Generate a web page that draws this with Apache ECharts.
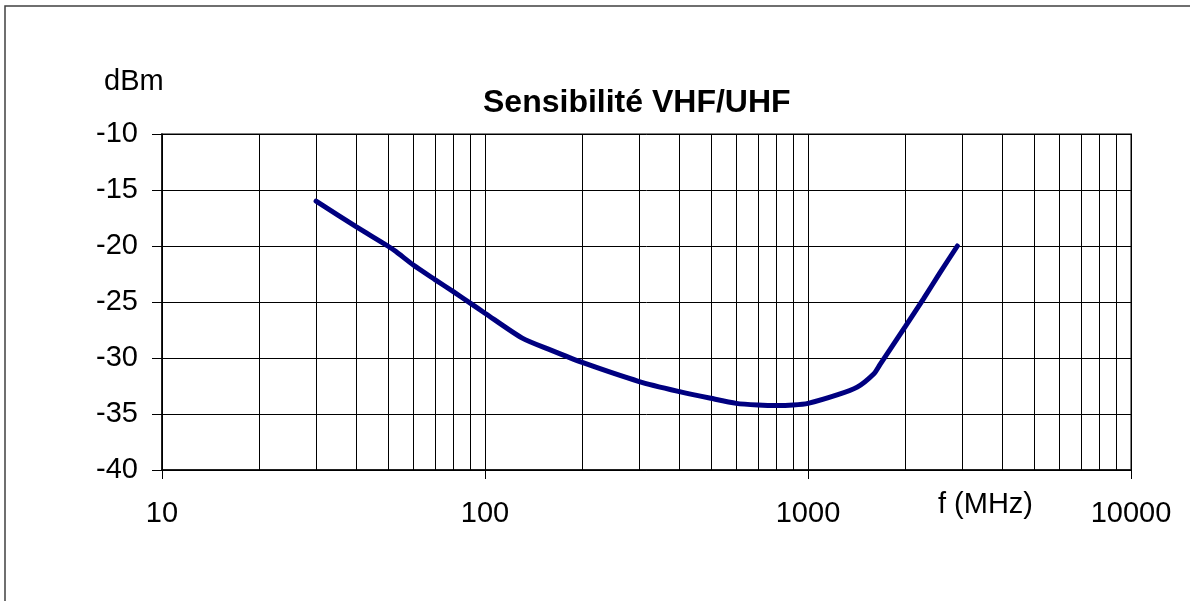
<!DOCTYPE html>
<html>
<head>
<meta charset="utf-8">
<script src="https://cdn.jsdelivr.net/npm/echarts@6/dist/echarts.min.js"></script>
<style>
  html, body { margin: 0; padding: 0; background: #fff; }
  #chart { width: 1190px; height: 601px; }
</style>
</head>
<body>
<div id="chart"></div>
<script>
// fréquences (MHz) et sensibilité (dBm)
const freqMHz = [30, 40, 50, 53, 60, 70, 80, 90, 100, 130, 160, 200, 300, 400, 500,
  600, 700, 800, 900, 1000, 1230, 1420, 1600, 1670, 2000, 2280, 2560, 2900]
const sensDbm = [-16, -18.3, -20, -20.5, -21.7, -23, -24.1, -25.1, -26, -28.2, -29.3, -30.4, -32.1, -33.0, -33.6,
  -34.05, -34.2, -34.25, -34.2, -34.05, -33.3, -32.6, -31.4, -30.6, -27.2, -24.7, -22.4, -20]

// lignes de grille secondaires (échelle log)
const minorFreqs = [20, 30, 40, 50, 60, 70, 80, 90,
  200, 300, 400, 500, 600, 700, 800, 900,
  2000, 3000, 4000, 5000, 6000, 7000, 8000, 9000]

const FONT = '"Liberation Sans", Arial, sans-serif'

const chart = echarts.init(document.getElementById('chart'))

chart.setOption({
  animation: false,
  backgroundColor: '#fff',
  grid: {
    left: 162, top: 134, right: 59, bottom: 131,
    show: true, borderColor: '#808080', borderWidth: 2
  },
  graphic: [
    {
      type: 'rect', silent: true, z: -1,
      shape: { x: 5, y: 6, width: 1300, height: 700 },
      style: { fill: 'none', stroke: '#404040', lineWidth: 1.5 }
    },
    {
      type: 'text', left: 104, top: 67,
      style: { text: 'dBm', font: '29px ' + FONT, fill: '#000' }
    },
    {
      type: 'text', left: 938, top: 490,
      style: { text: 'f (MHz)', font: '29px ' + FONT, fill: '#000' }
    },
    {
      type: 'text', left: 483, top: 87,
      style: { text: 'Sensibilité VHF/UHF', font: 'bold 32px ' + FONT, fill: '#000' }
    }
  ],
  xAxis: {
    type: 'log',
    logBase: 10,
    min: 10,
    max: 10000,
    axisLine: { show: true, onZero: false, lineStyle: { color: '#000', width: 1.5 } },
    axisTick: { show: true, length: 9, lineStyle: { color: '#000' } },
    axisLabel: {
      color: '#000', fontSize: 29, fontFamily: FONT, margin: 29,
      formatter: v => String(Math.round(v))
    },
    splitLine: { show: true, lineStyle: { color: '#000', width: 1 } },
    minorTick: { show: false }
  },
  yAxis: {
    type: 'value',
    min: -40,
    max: -10,
    interval: 5,
    axisLine: { show: true, lineStyle: { color: '#000', width: 1.5 } },
    axisTick: { show: true, length: 10, lineStyle: { color: '#000' } },
    axisLabel: { color: '#000', fontSize: 29, fontFamily: FONT, margin: 24 },
    splitLine: { show: true, lineStyle: { color: '#000', width: 1 } }
  },
  series: [
    {
      // grille secondaire
      type: 'line',
      data: [],
      z: 1,
      silent: true,
      markLine: {
        silent: true,
        symbol: 'none',
        label: { show: false },
        lineStyle: { color: '#000', width: 1, type: 'solid' },
        data: minorFreqs.map(f => ({ xAxis: f }))
      }
    },
    {
      type: 'line',
      z: 5,
      data: freqMHz.map((f, i) => [f, sensDbm[i]]),
      showSymbol: false,
      smooth: 0.25,
      lineStyle: { color: '#000080', width: 5, cap: 'round' }
    }
  ]
})
</script>
</body>
</html>
